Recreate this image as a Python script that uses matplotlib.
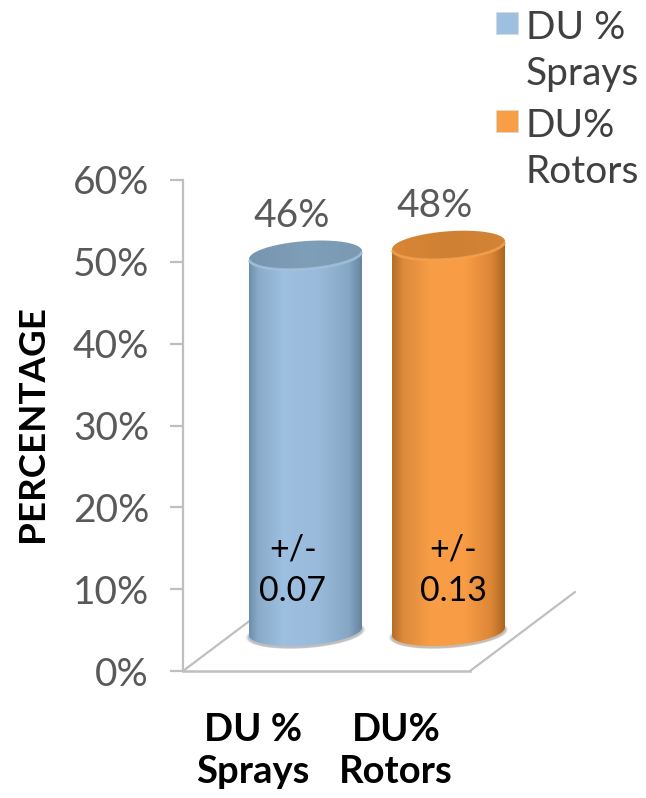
import numpy as np
import matplotlib
matplotlib.use("Agg")
import matplotlib.pyplot as plt
from matplotlib.colors import LinearSegmentedColormap
from matplotlib.legend_handler import HandlerBase
from matplotlib.patches import PathPatch, Patch, Rectangle
from matplotlib.path import Path

# ---- data -------------------------------------------------------------
categories = ["DU %\nSprays", "DU%\nRotors"]
legend_labels = ["DU %\nSprays", "DU%\nRotors"]
bar_heights = [46.0, 47.2]          # heights read against the axis
value_labels = ["46%", "48%"]
error_labels = ["+/-\n0.07", "+/-\n0.13"]
y_ticks = [0, 10, 20, 30, 40, 50, 60]
y_tick_labels = ["0%", "10%", "20%", "30%", "40%", "50%", "60%"]

# ---- style ------------------------------------------------------------
W, H = 646, 798
FONT = "Lato"
GREY = "#595959"
AXIS = "#BFBFBF"
body_colors = [
    [(0, "#6d8eaa"), (.08, "#8aabc9"), (.3, "#9dbfe0"), (.6, "#9abbdb"), (.88, "#86a8c6"), (1, "#66859f")],
    [(0, "#b56d27"), (.1, "#dd8a3b"), (.35, "#f89e47"), (.65, "#f89c45"), (.88, "#dc8637"), (1, "#ab6620")],
]
cap_colors = [["#7795ae", "#7f9eb8", "#7a99b2"], ["#d98635", "#d08033", "#d48436"]]
rim_colors = ["#a3c1dc", "#f5a04e"]
shadow_colors = ["#7a7f85", "#8a7a68"]

plt.rcParams["font.family"] = [FONT, "DejaVu Sans"]
fig = plt.figure(figsize=(W / 100, H / 100), dpi=100, facecolor="white")

px_left, px_right, px_top, px_bottom = 183, 600, 180, 671
ax = fig.add_axes([px_left / W, 1 - px_bottom / H,
                   (px_right - px_left) / W, (px_bottom - px_top) / H])
step = 143.0                         # pixels per category
x_of_first = 253.0                   # pixel of first category label
xlim = ((px_left - x_of_first) / step, (px_right - x_of_first) / step)
pct = (px_bottom - px_top) / 60.0    # pixels per percentage point
depth_x, depth_y = 105 / step, 79 / pct

half_w = 56.5 / step
ell_b = 14.0 / pct
ell_k = 4.0 / pct


def ellipse(cx, cy, t):
    return cx + half_w * np.cos(t), cy + ell_b * np.sin(t) + ell_k * np.cos(t)


def fill_gradient(path, x0, x1, y0, y1, colors, z):
    patch = PathPatch(path, fc="none", ec="none", zorder=z)
    ax.add_patch(patch)
    cmap = LinearSegmentedColormap.from_list("g", colors)
    im = ax.imshow(np.linspace(0, 1, 256).reshape(1, -1), extent=(x0, x1, y0, y1),
                   cmap=cmap, aspect="auto", zorder=z, interpolation="bilinear")
    im.set_clip_path(patch)


# floor
ax.plot([xlim[0], xlim[0] + depth_x], [0, depth_y], color=AXIS, lw=1.6,
        zorder=1, solid_capstyle="round")
right_corner = xlim[0] + 287 / step
ax.plot([right_corner, right_corner + depth_x], [0, depth_y], color=AXIS, lw=1.6,
        zorder=1, solid_capstyle="round")

t_low = np.linspace(0, -np.pi, 80)      # front edge, right to left
t_all = np.linspace(0, 2 * np.pi, 160)

for i, h in enumerate(bar_heights):
    cx = i + depth_x / 2
    base = depth_y / 2
    top = base + h

    # soft contact shadow
    for grow, alpha in [(1.06, .10), (1.04, .18), (1.02, .30)]:
        sx = cx + half_w * grow * np.cos(t_all)
        sy = base - 0.25 + ell_b * grow * np.sin(t_all) + ell_k * np.cos(t_all)
        ax.fill(sx, sy, color=shadow_colors[i], alpha=alpha, lw=0, zorder=2)

    # cylinder body
    xb, yb = ellipse(cx, base, t_low)
    xt, yt = ellipse(cx, top, t_low[::-1])
    verts = np.column_stack([np.r_[xb, xt], np.r_[yb, yt]])
    fill_gradient(Path(verts), cx - half_w, cx + half_w, base - 3, top + 3,
                  body_colors[i], 3)

    # top face
    xc, yc = ellipse(cx, top, t_all)
    fill_gradient(Path(np.column_stack([xc, yc])), cx - half_w, cx + half_w,
                  top - 3, top + 3, cap_colors[i], 4)
    xf, yf = ellipse(cx, top, np.linspace(-np.pi * .95, -np.pi * .05, 60))
    ax.plot(xf, yf, color=rim_colors[i], lw=2.0, alpha=.8, zorder=5)

    ax.text(cx - 14 / step, top + 2.6, value_labels[i], ha="center", va="bottom",
            fontsize=28, color=GREY, zorder=6)
    ax.text(i + (293 - x_of_first) / step + (i * 17 / step), 12.3, error_labels[i],
            ha="center", va="center", fontsize=24.5, color="black",
            linespacing=1.39, zorder=6)

ax.set_xlim(xlim)
ax.set_ylim(0, 60)
ax.set_facecolor("none")
for side in ("top", "right"):
    ax.spines[side].set_visible(False)
ax.spines["left"].set_color(AXIS)
ax.spines["left"].set_linewidth(1.6)
ax.spines["bottom"].set_color(AXIS)
ax.spines["bottom"].set_linewidth(1.8)
ax.spines["bottom"].set_bounds(xlim[0], right_corner)

ax.set_yticks(y_ticks, y_tick_labels, fontsize=28, color=GREY)
ax.tick_params(axis="y", length=9.4, width=1.6, color=AXIS, pad=15)
ax.set_xticks(range(len(categories)), categories, fontsize=27.5, fontweight="bold",
              color="black", linespacing=1.28)
ax.tick_params(axis="x", length=0, pad=30)
fig.text(33 / W, 1 - 424 / H, "PERCENTAGE", rotation=90, ha="center", va="center",
         fontsize=26.5, fontweight="bold", color="black")


class TopSquare(HandlerBase):
    def create_artists(self, legend, orig, xd, yd, width, height, fontsize, trans):
        side = 16
        r = Rectangle((width - side - 2, height / 2 - side / 2 + 21), side, side,
                      fc=orig.get_facecolor(), ec="#d9d9d9", lw=.5, transform=trans)
        return [r]


handles = [Patch(fc="#9dbfe0"), Patch(fc="#f89e47")]
leg = fig.legend(handles, legend_labels, loc="upper left",
                 bbox_to_anchor=(488 / W, 1 - 10 / H), frameon=False, fontsize=28,
                 labelcolor="#404040", handler_map={Patch: TopSquare()},
                 handlelength=0.85, handletextpad=0.12, labelspacing=0.4,
                 borderpad=0, borderaxespad=0)
for t in leg.get_texts():
    t.set_linespacing(1.36)

fig.savefig("out.png", dpi=100)
